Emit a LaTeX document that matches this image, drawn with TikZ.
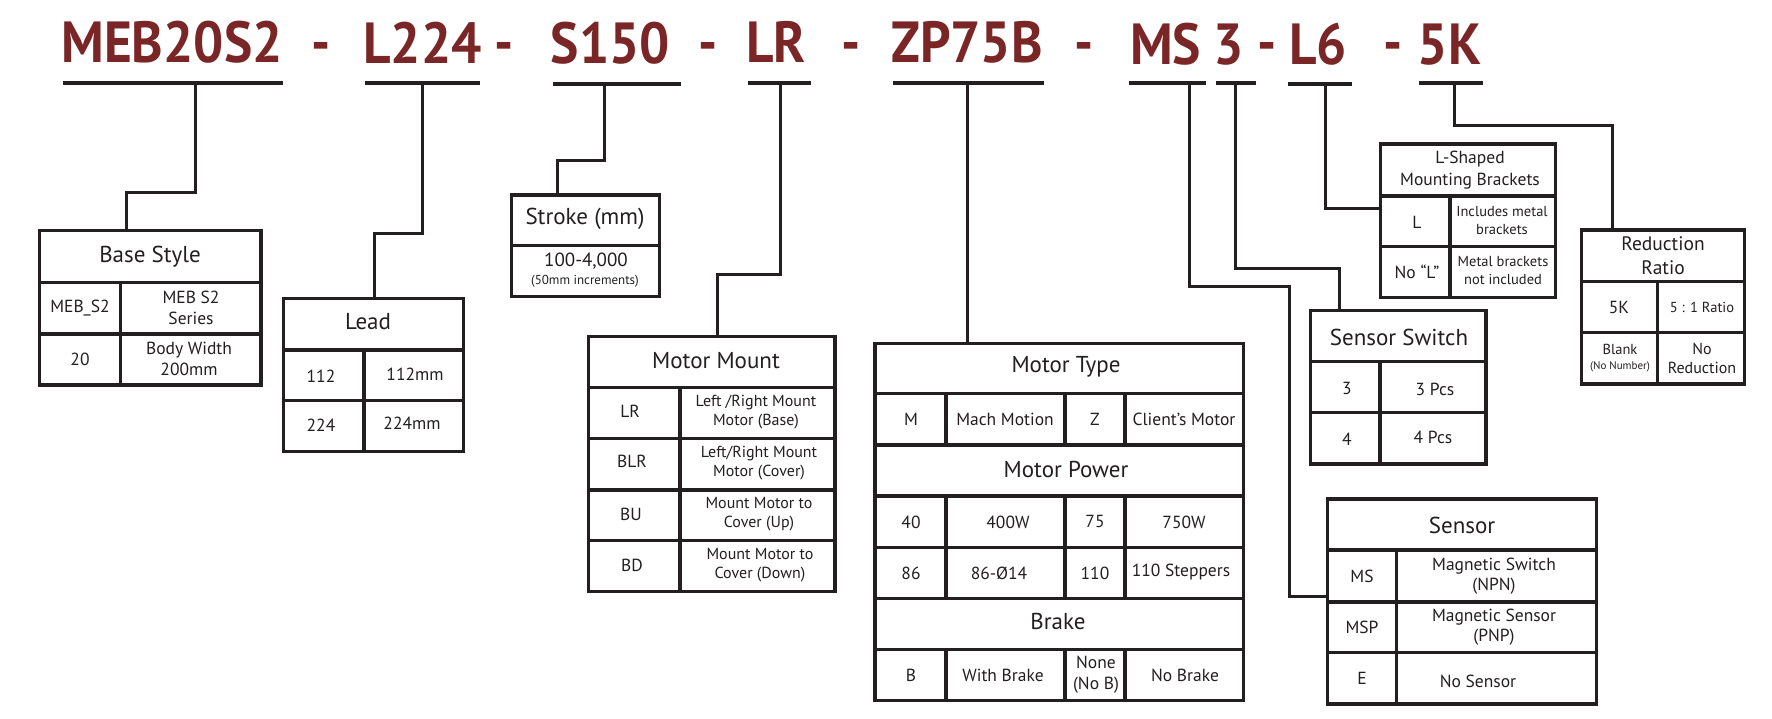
\documentclass[tikz,border=0pt]{standalone}
\usepackage{fontspec}
\setmainfont{PT Sans}
\newfontfamily\codefont[FakeStretch=0.92]{PT Sans}
\usetikzlibrary{fit}
\definecolor{ink}{HTML}{231F20}
\definecolor{codered}{HTML}{7A2526}
\tikzset{
  tbl/.style={draw=ink, line width=3.3pt, inner sep=0pt, rectangle},
  rulel/.style={draw=ink, line width=3.3pt},
  conn/.style={draw=ink, line width=3pt, line join=miter},
  uline/.style={draw=ink, line width=3.6pt},
  code/.style={text=codered, font=\codefont\fontsize{58}{60}\selectfont\bfseries, anchor=base, inner sep=0pt},
  thdr/.style={text=ink, font=\fontsize{23}{27}\selectfont, align=center, inner sep=0pt},
  thdrs/.style={text=ink, font=\fontsize{19}{23}\selectfont, align=center, inner sep=0pt},
  tcell/.style={text=ink, font=\fontsize{17.5}{21}\selectfont, align=center, inner sep=0pt},
  tcellb/.style={text=ink, font=\fontsize{16}{19}\selectfont, align=center, inner sep=0pt},
  tcellc/.style={text=ink, font=\fontsize{14.5}{18}\selectfont, align=center, inner sep=0pt},
  tcelld/.style={text=ink, font=\fontsize{17.5}{20}\selectfont, align=center, inner sep=0pt},
}
\newcommand{\mkbox}[5]{%
  \coordinate (#1-nw) at (#2,#3);
  \coordinate (#1-se) at (#4,#5);
  \node[tbl, fit=(#1-nw)(#1-se)] (#1) {};}
\begin{document}
\begin{tikzpicture}[x=1pt,y=-1pt]
\useasboundingbox (0,0) rectangle (1772,718);
\fill[white] (0,0) rectangle (1772,718);

% ---- codes ----
\node[code] (cMEB) at (172,62) {MEB20S2};
\node[code] (d1) at (321.5,62) {-};
\node[code] (cL) at (422.5,63) {L224};
\node[code] (d2) at (504,62) {-};
\node[code] (cS) at (610.5,63) {S150};
\node[code] (d3) at (708,62) {-};
\node[code] (cLR) at (776,62) {LR};
\node[code] (d4) at (851,62) {-};
\node[code] (cZP) at (967,62) {ZP75B};
\node[code] (d5) at (1084.5,62) {-};
\node[code] (cMS) at (1165.5,64) {MS};
\node[code] (c3) at (1228.5,64) {3};
\node[code] (d6) at (1267,62) {-};
\node[code] (cL6) at (1318,64) {L6};
\node[code] (d7) at (1393,62) {-};
\node[code] (c5K) at (1449.5,64) {5K};

% ---- underlines ----
\draw[uline] (63,83) -- (283,83);
\draw[uline] (365,83) -- (480,83);
\draw[uline] (553,84) -- (681,84);
\draw[uline] (748,83) -- (811,83);
\draw[uline] (893,83) -- (1044,83);
\draw[uline] (1129,83) -- (1206,83);
\draw[uline] (1216,83) -- (1256,83);
\draw[uline] (1288,84) -- (1352,84);
\draw[uline] (1419,83) -- (1483,83);
\coordinate (uMEB) at (195,83);
\coordinate (uL) at (422,83);
\coordinate (uS) at (604,84);
\coordinate (uLR) at (780,83);
\coordinate (uZP) at (967,83);
\coordinate (uMS) at (1189,83);
\coordinate (u3) at (1235.5,83);
\coordinate (uL6) at (1325,84);
\coordinate (u5K) at (1454.5,83);

% ---- Base Style ----
\mkbox{base}{39.3}{230.7}{261}{385}
\draw[rulel] (39.3,282.7) -- (261,282.7);
\draw[rulel] (39.3,334) -- (261,334);
\draw[rulel] (120.7,282.7) -- (120.7,385);
\node[thdr] (baseH) at (150,257) {Base Style};
\node[tcell] (base11) at (80,308) {MEB\_S2};
\node[tcell] (base12) at (191,308) {MEB S2\\Series};
\node[tcell] (base21) at (80,359) {20};
\node[tcell] (base22) at (189,359) {Body Width\\200mm};

% ---- Lead ----
\mkbox{lead}{283.3}{298.3}{463.3}{451.7}
\draw[rulel] (283.3,350) -- (463.3,350);
\draw[rulel] (283.3,400.7) -- (463.3,400.7);
\draw[rulel] (364,350) -- (364,451.7);
\node[thdr] (leadH) at (368,322) {Lead};
\node[tcell] (lead11) at (321,376) {112};
\node[tcell] (lead12) at (415,374) {112mm};
\node[tcell] (lead21) at (321,425) {224};
\node[tcell] (lead22) at (412,423) {224mm};

% ---- Stroke ----
\mkbox{stroke}{511.7}{195}{659.3}{296.7}
\draw[rulel] (511.7,245.7) -- (659.3,245.7);
\node[thdr] (strokeH) at (585,219) {Stroke (mm)};
\node[text=ink, font=\fontsize{19}{22}\selectfont, inner sep=0pt] (strokeV) at (586,261) {100-4,000};
\node[text=ink, font=\fontsize{13}{15}\selectfont, inner sep=0pt] (strokeN) at (585,281) {(50mm increments)};

% ---- Motor Mount ----
\mkbox{mount}{588.3}{336.7}{835}{591.7}
\draw[rulel] (588.3,387.3) -- (835,387.3);
\draw[rulel] (588.3,438.7) -- (835,438.7);
\draw[rulel] (588.3,490) -- (835,490);
\draw[rulel] (588.3,540.7) -- (835,540.7);
\draw[rulel] (680,387.3) -- (680,591.7);
\node[thdr] (mountH) at (716,361) {Motor Mount};
\node[tcell] (m11) at (630,411) {LR};
\node[tcellb] (m12) at (756,412) {Left /Right Mount\\Motor (Base)};
\node[tcell] (m21) at (632,461) {BLR};
\node[tcellb] (m22) at (759,463) {Left/Right Mount\\Motor (Cover)};
\node[tcell] (m31) at (631,514) {BU};
\node[tcellb] (m32) at (759,514) {Mount Motor to\\Cover (Up)};
\node[tcell] (m41) at (632,565) {BD};
\node[tcellb] (m42) at (760,565) {Mount Motor to\\Cover (Down)};

% ---- Motor Type ----
\mkbox{mtype}{875}{343.3}{1243.3}{700.7}
\foreach \yy in {393.3,445,496,547.3,598.3,649.3}
  \draw[rulel] (875,\yy) -- (1243.3,\yy);
\foreach \xx in {946,1065,1125} {
  \draw[rulel] (\xx,393.3) -- (\xx,445);
  \draw[rulel] (\xx,496) -- (\xx,598.3);
  \draw[rulel] (\xx,649.3) -- (\xx,700.7);
}
\node[thdr] (mtypeH) at (1066,367) {Motor Type};
\node[tcell] (t11) at (911,419) {M};
\node[tcell] (t12) at (1005,419) {Mach Motion};
\node[tcell] (t13) at (1095,419) {Z};
\node[tcell] (t14) at (1184,419) {Client’s Motor};
\node[thdr] (mpowH) at (1066,469) {Motor Power};
\node[tcell] (p11) at (911,522) {40};
\node[tcell] (p12) at (1008,522) {400W};
\node[tcell] (p13) at (1095,521) {75};
\node[tcell] (p14) at (1184,522) {750W};
\node[tcell] (p21) at (911,573) {86};
\node[tcell] (p22) at (999,573) {86-Ø14};
\node[tcell] (p23) at (1095,573) {110};
\node[tcell] (p24) at (1181,572) {110 Steppers};
\node[thdr] (brakeH) at (1058,621) {Brake};
\node[tcell] (b11) at (911,675) {B};
\node[tcell] (b12) at (1003,675) {With Brake};
\node[tcell] (b13) at (1096,675) {None\\(No B)};
\node[tcell] (b14) at (1185,675) {No Brake};

% ---- L-Shaped ----
\mkbox{lsh}{1380.7}{144}{1555.3}{297.3}
\draw[rulel] (1380.7,196) -- (1555.3,196);
\draw[rulel] (1380.7,246.7) -- (1555.3,246.7);
\draw[rulel] (1450,196) -- (1450,297.3);
\node[thdrs, font=\fontsize{17.5}{22}\selectfont] (lshH) at (1470,170) {L-Shaped\\Mounting Brackets};
\node[tcell] (l11) at (1417,222) {L};
\node[tcellc] (l12) at (1502,221) {Includes metal\\brackets};
\node[tcell] (l21) at (1417,272) {No “L”};
\node[tcellc] (l22) at (1503,271) {Metal brackets\\not included};

% ---- Sensor Switch ----
\mkbox{sw}{1310.7}{310.7}{1486}{464}
\draw[rulel] (1310.7,361.7) -- (1486,361.7);
\draw[rulel] (1310.7,412.7) -- (1486,412.7);
\draw[rulel] (1380,361.7) -- (1380,464);
\node[thdr] (swH) at (1399,337) {Sensor Switch};
\node[tcell] (s11) at (1347,388) {3};
\node[tcell] (s12) at (1435,389) {3 Pcs};
\node[tcell] (s21) at (1347,439) {4};
\node[tcell] (s22) at (1433,437) {4 Pcs};

% ---- Reduction Ratio ----
\mkbox{red}{1581.7}{230}{1744.3}{384}
\draw[rulel] (1581.7,281.7) -- (1744.3,281.7);
\draw[rulel] (1581.7,332.3) -- (1744.3,332.3);
\draw[rulel] (1657.7,281.7) -- (1657.7,384);
\node[thdrs, font=\fontsize{19.5}{24}\selectfont] (redH) at (1663,256) {Reduction\\Ratio};
\node[tcell] (r11) at (1619,307) {5K};
\node[tcellc] (r12) at (1702,307) {5 : 1 Ratio};
\node[tcellc] (r21) at (1620,358) {Blank\\[-3pt]{\fontsize{11}{12}\selectfont(No Number)}};
\node[tcellb] (r22) at (1702,358) {No\\Reduction};

% ---- Sensor ----
\mkbox{sen}{1327.3}{499}{1596.7}{704}
\draw[rulel] (1327.3,550) -- (1596.7,550);
\draw[rulel] (1327.3,602) -- (1596.7,602);
\draw[rulel] (1327.3,652.7) -- (1596.7,652.7);
\draw[rulel] (1396.7,550) -- (1396.7,704);
\node[thdr] (senH) at (1462,525) {Sensor};
\node[tcell] (e11) at (1362,576) {MS};
\node[tcelld] (e12) at (1494,576) {Magnetic Switch\\(NPN)};
\node[tcell] (e21) at (1362,627) {MSP};
\node[tcelld] (e22) at (1494,627) {Magnetic Sensor\\(PNP)};
\node[tcell] (e31) at (1362,678) {E};
\node[tcelld] (e32) at (1478,681) {No Sensor};

% ---- connectors ----
\draw[conn] (uMEB) -- (195,192.7) -- (126,192.7) -- (base.north -| 126,0);
\draw[conn] (uL) -- (422,233.3) -- (374,233.3) -- (lead.north -| 374,0);
\draw[conn] (uS) -- (604,160) -- (557,160) -- (stroke.north -| 557,0);
\draw[conn] (uLR) -- (780,274) -- (717,274) -- (mount.north -| 717,0);
\draw[conn] (uZP) -- (mtype.north -| 967,0);
\draw[conn] (uMS) -- (1189,286.7) -- (1289,286.7) -- (1289,596) -- (sen.west |- 0,596);
\draw[conn] (u3) -- (1235.5,268.3) -- (1339,268.3) -- (sw.north -| 1339,0);
\draw[conn] (uL6) -- (1325,208.3) -- (lsh.west |- 0,208.3);
\draw[conn] (u5K) -- (1454.5,125) -- (1612,125) -- (red.north -| 1612,0);
\end{tikzpicture}
\end{document}
